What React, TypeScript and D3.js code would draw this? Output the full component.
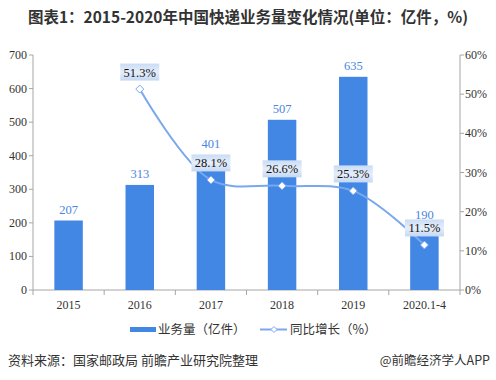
import React from "react";
import * as d3 from "d3";

const categories = ["2015", "2016", "2017", "2018", "2019", "2020.1-4"];
const volume = [207, 313, 401, 507, 635, 190];
const growth: (number | null)[] = [null, 51.3, 28.1, 26.6, 25.3, 11.5];
const leftTicks = [0, 100, 200, 300, 400, 500, 600, 700];
const rightTicks = [0, 10, 20, 30, 40, 50, 60];

const W = 496, H = 380;
const M = { left: 33, right: 460, top: 55, bottom: 290 };
const SERIF = "'Liberation Serif', 'Times New Roman', serif";
const SANS = "'Noto Sans CJK SC', 'Noto Sans', sans-serif";

export default function App() {
  const x = d3.scaleBand<string>().domain(categories).range([M.left, M.right]).paddingInner(0).paddingOuter(0);
  const yL = d3.scaleLinear().domain([0, 700]).range([M.bottom, M.top]);
  const yR = d3.scaleLinear().domain([0, 60]).range([M.bottom, M.top]);
  const bw = x.bandwidth() * 0.4;
  const cx = (c: string) => (x(c) as number) + x.bandwidth() / 2;

  const pts = categories
    .map((c, i) => ({ c, v: growth[i] }))
    .filter((d) => d.v !== null) as { c: string; v: number }[];
  const line = d3
    .line<{ c: string; v: number }>()
    .x((d) => cx(d.c))
    .y((d) => yR(d.v))
    .curve(d3.curveCatmullRom.alpha(0.5));

  const diamond = (px: number, py: number, r: number) =>
    `M${px},${py - r}L${px + r},${py}L${px},${py + r}L${px - r},${py}Z`;

  const boundaries = d3.range(categories.length + 1).map((i) => M.left + i * x.bandwidth());

  return (
    <svg width={W} height={H} style={{ position: "absolute", left: 0, top: 0, background: "#fff" }}>
      <defs>
        <linearGradient id="lblg" x1="0" y1="0" x2="0" y2="1">
          <stop offset="0" stopColor="#c9dcf5" />
          <stop offset="0.5" stopColor="#e6eefa" />
          <stop offset="1" stopColor="#c4d8f3" />
        </linearGradient>
      </defs>
      <rect x={0} y={0} width={W} height={H} fill="#fff" />
      <text x={248} y={23} textAnchor="middle" fontFamily={SANS} fontWeight="bold" fontSize={15.5} fill="#333">
        图表1：2015-2020年中国快递业务量变化情况(单位：亿件，%)
      </text>

      {/* left axis */}
      <line x1={M.left} x2={M.left} y1={M.top} y2={M.bottom} stroke="#a6a6a6" />
      {leftTicks.map((t) => (
        <g key={"l" + t}>
          <line x1={M.left - 4} x2={M.left} y1={yL(t)} y2={yL(t)} stroke="#a6a6a6" />
          <text x={M.left - 6} y={yL(t) + 4} textAnchor="end" fontFamily={SERIF} fontSize={12} fill="#333">
            {t}
          </text>
        </g>
      ))}
      {/* right axis */}
      <line x1={M.right} x2={M.right} y1={M.top} y2={M.bottom} stroke="#a6a6a6" />
      {rightTicks.map((t) => (
        <g key={"r" + t}>
          <line x1={M.right} x2={M.right + 4} y1={yR(t)} y2={yR(t)} stroke="#a6a6a6" />
          <text x={M.right + 5} y={yR(t) + 4} textAnchor="start" fontFamily={SERIF} fontSize={12} fill="#333">
            {t}%
          </text>
        </g>
      ))}
      {/* bottom axis */}
      <line x1={M.left} x2={M.right} y1={M.bottom} y2={M.bottom} stroke="#a6a6a6" />
      {boundaries.map((b, i) => (
        <line key={"b" + i} x1={b} x2={b} y1={M.bottom} y2={M.bottom + 5} stroke="#a6a6a6" />
      ))}
      {categories.map((c) => (
        <text key={"c" + c} x={cx(c)} y={309} textAnchor="middle" fontFamily={SERIF} fontSize={12} fill="#333">
          {c}
        </text>
      ))}

      {/* bars */}
      {categories.map((c, i) => (
        <g key={"bar" + c}>
          <rect x={cx(c) - bw / 2} y={yL(volume[i])} width={bw} height={M.bottom - yL(volume[i])} fill="#4287e3" />
          <text x={cx(c)} y={yL(volume[i]) - 7} textAnchor="middle" fontFamily={SERIF} fontSize={12.5} fill="#4a86e0">
            {volume[i]}
          </text>
        </g>
      ))}

      {/* line */}
      <path d={line(pts) || ""} fill="none" stroke="#79a8ee" strokeWidth={2} />
      {pts.map((p) => (
        <path key={"m" + p.c} d={diamond(cx(p.c), yR(p.v), 4)} fill="#fff" stroke="#79a8ee" strokeWidth={1} />
      ))}
      {pts.map((p) => {
        const px = cx(p.c);
        const py = yR(p.v) - 17;
        return (
          <g key={"pl" + p.c}>
            <rect x={px - 19.5} y={py - 8.5} width={39} height={17} fill="url(#lblg)" />
            <text x={px} y={py + 4.5} textAnchor="middle" fontFamily={SERIF} fontSize={12.5} fill="#111">
              {p.v.toFixed(1)}%
            </text>
          </g>
        );
      })}

      {/* legend */}
      <rect x={130} y={327} width={26} height={5} fill="#4287e3" />
      <text x={158} y={334} fontFamily={SANS} fontSize={12.5} fill="#333">
        业务量（亿件）
      </text>
      <line x1={260} x2={287} y1={329.5} y2={329.5} stroke="#79a8ee" strokeWidth={2} />
      <path d={diamond(274, 329.5, 3)} fill="#fff" stroke="#79a8ee" />
      <text x={290} y={334} fontFamily={SANS} fontSize={12.5} fill="#333">
        同比增长（%）
      </text>

      {/* source */}
      <text x={8} y={365} fontFamily={SANS} fontSize={13} fill="#333">
        资料来源：国家邮政局 前瞻产业研究院整理
      </text>
      <text x={490} y={365} textAnchor="end" fontFamily={SANS} fontSize={12.5} fill="#333">
        @前瞻经济学人APP
      </text>
    </svg>
  );
}
